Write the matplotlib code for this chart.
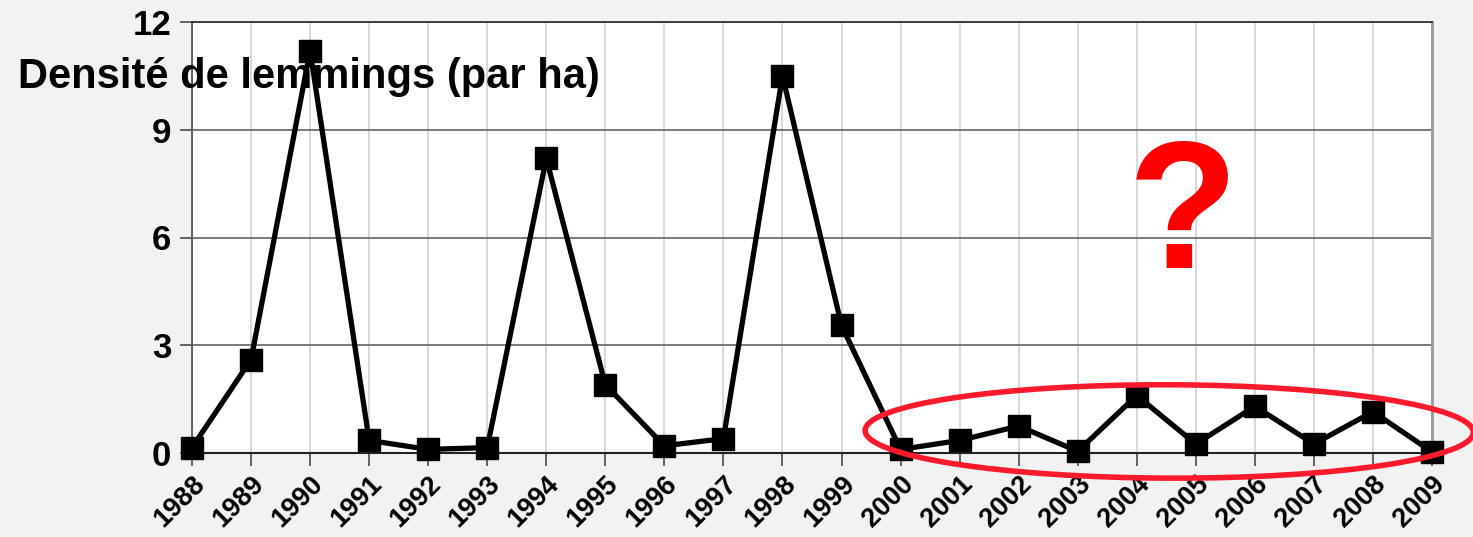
import matplotlib.pyplot as plt
from matplotlib.patches import Ellipse

plt.rcParams['font.family'] = ['Liberation Sans', 'DejaVu Sans']

years = list(range(1988, 2010))
density = [0.15, 2.6, 11.2, 0.35, 0.1, 0.15, 8.2, 1.9, 0.2, 0.4, 10.5,
           3.55, 0.1, 0.35, 0.75, 0.05, 1.6, 0.25, 1.3, 0.25, 1.15, 0.03]
y_ticks = [0, 3, 6, 9, 12]

fig = plt.figure(figsize=(14.73, 5.37), dpi=100, facecolor='#f2f2f2')
ax = fig.add_axes([192 / 1473, 1 - 453 / 537, 1240 / 1473, 431 / 537])
ax.set_facecolor('white')

# grid
for yr in years:
    ax.axvline(yr, color='#d4d4d4', lw=1.3, zorder=0)
for v in y_ticks[1:]:
    ax.axhline(v, color='#6e6e6e', lw=1.3, zorder=1)

ax.plot(years, density, color='black', lw=3.8, marker='s', ms=16,
        clip_on=False, zorder=3)

ax.set_xlim(1988, 2009)
ax.set_ylim(0, 12)
ax.set_yticks(y_ticks)
ax.set_yticklabels([str(v) for v in y_ticks], fontsize=25, fontweight='bold')
ax.set_xticks(years)
ax.set_xticklabels([str(y) for y in years], rotation=45, ha='right',
                   rotation_mode='anchor', fontsize=19.5, fontweight='bold')
ax.tick_params(axis='both', direction='out', length=9, width=1.3,
               color='#555555', pad=6)
ax.tick_params(axis='x', pad=4)

ax.spines['top'].set_color('#333333')
ax.spines['top'].set_linewidth(1.3)
ax.spines['left'].set_color('#555555')
ax.spines['left'].set_linewidth(1.3)
ax.spines['right'].set_color('#999999')
ax.spines['right'].set_linewidth(2)
ax.spines['bottom'].set_color('#222222')
ax.spines['bottom'].set_linewidth(1.5)

fig.text(18 / 1473, 1 - 77 / 537, 'Densité de lemmings (par ha)',
         fontsize=30, fontweight='bold', va='center', ha='left', zorder=5)

# red ellipse around the recent years
ell = Ellipse((2004.55, 0.6), 10.3, 2.6, angle=-0.3, fill=False,
              edgecolor='#ff1a2e', lw=4, clip_on=False, zorder=4)
ax.add_patch(ell)

ax.text(2004.78, 6.45, '?', color='#ff0000', fontsize=130, fontweight='bold',
        ha='center', va='center', zorder=4)

fig.savefig('out.png', dpi=100, facecolor=fig.get_facecolor())
